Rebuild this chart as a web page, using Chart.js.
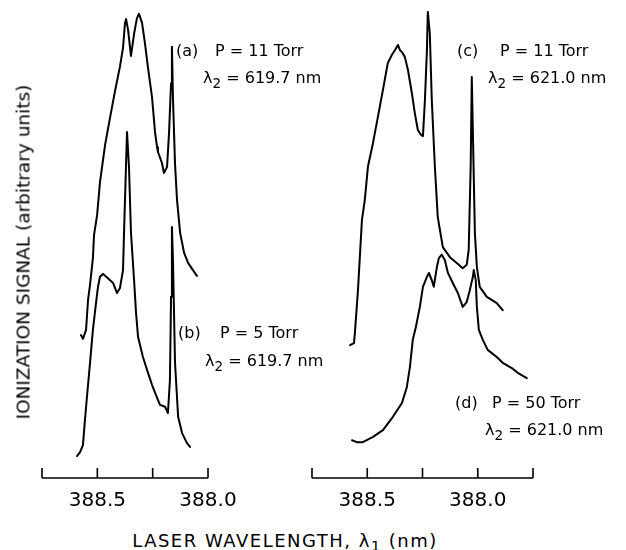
<!DOCTYPE html>
<html>
<head>
<meta charset="utf-8">
<script src="https://cdn.jsdelivr.net/npm/chart.js"></script>
<style>
  body { margin: 0; background: #fff; }
  #wrap { position: relative; width: 626px; height: 550px; overflow: hidden; font-family: "DejaVu Sans", sans-serif; color: #000; }
  canvas { position: absolute; top: 0; }
  .t { position: absolute; font-size: 16px; line-height: 16px; white-space: pre; }
  .t sub { font-size: 0.85em; vertical-align: -0.35em; line-height: 0; }
  #ytitle { position: absolute; left: 23px; top: 252px; transform: translate(-50%, -50%) rotate(-90deg); font-size: 18.5px; white-space: nowrap; }
  #xtitle { position: absolute; left: 285px; top: 540px; transform: translate(-50%, -50%); font-size: 18px; letter-spacing: 1.5px; white-space: nowrap; }
  #xtitle sub { font-size: 0.8em; vertical-align: -0.3em; line-height: 0; }
</style>
</head>
<body>
<div id="wrap">
  <canvas id="left" width="345" height="520" style="left:0"></canvas>
  <canvas id="right" width="336" height="520" style="left:290px"></canvas>

  <div id="ytitle">IONIZATION SIGNAL (arbitrary units)</div>
  <div id="xtitle">LASER WAVELENGTH, λ<sub>1</sub> (nm)</div>

  <div class="t" style="left:176px;top:43px">(a)</div>
  <div class="t" style="left:215px;top:43px">P = 11 Torr</div>
  <div class="t" style="left:203px;top:70px">λ<sub>2</sub> = 619.7 nm</div>

  <div class="t" style="left:178px;top:325px">(b)</div>
  <div class="t" style="left:220px;top:325px">P = 5 Torr</div>
  <div class="t" style="left:205px;top:353px">λ<sub>2</sub> = 619.7 nm</div>

  <div class="t" style="left:457px;top:43px">(c)</div>
  <div class="t" style="left:500px;top:43px">P = 11 Torr</div>
  <div class="t" style="left:488px;top:70px">λ<sub>2</sub> = 621.0 nm</div>

  <div class="t" style="left:455px;top:395px">(d)</div>
  <div class="t" style="left:492px;top:395px">P = 50 Torr</div>
  <div class="t" style="left:485px;top:422px">λ<sub>2</sub> = 621.0 nm</div>
</div>

<script>
// laser wavelength (nm) and ionization signal (arbitrary units, 0-100)

// (a) P = 11 Torr, lambda2 = 619.7 nm
const waveA = [388.574, 388.565, 388.551, 388.542, 388.533, 388.520, 388.515, 388.501, 388.488, 388.465,
  388.443, 388.420, 388.398, 388.384, 388.375, 388.370, 388.361, 388.348, 388.334, 388.321,
  388.312, 388.298, 388.285, 388.271, 388.253, 388.239, 388.230, 388.226, 388.208, 388.199,
  388.185, 388.176, 388.167, 388.163, 388.158, 388.149, 388.140, 388.126, 388.108, 388.090,
  388.068, 388.050];
const signalA = [29.9, 29.1, 31.0, 37.2, 40.4, 46.0, 50.8, 55.0, 61.9, 69.7,
  75.3, 81.0, 86.0, 90.0, 95.2, 96.0, 93.7, 88.3, 92.9, 96.2,
  97.1, 95.2, 91.0, 85.8, 79.7, 72.2, 69.2, 68.2, 65.9, 63.8,
  65.1, 72.2, 82.6, 90.2, 79.1, 65.7, 58.2, 51.3, 47.1, 45.0,
  43.5, 42.3];

// (b) P = 5 Torr, lambda2 = 619.7 nm
const waveB = [388.592, 388.578, 388.565, 388.556, 388.547, 388.533, 388.520, 388.506, 388.497, 388.488,
  388.474, 388.465, 388.452, 388.429, 388.411, 388.398, 388.384, 388.379, 388.375, 388.366,
  388.357, 388.348, 388.334, 388.325, 388.316, 388.294, 388.271, 388.253, 388.239, 388.217,
  388.194, 388.181, 388.172, 388.167, 388.163, 388.158, 388.149, 388.135, 388.117, 388.095,
  388.081];
const signalB = [4.6, 5.4, 6.9, 12.1, 16.9, 24.1, 31.0, 36.6, 40.0, 42.1,
  42.7, 42.3, 41.8, 40.8, 38.7, 39.7, 43.5, 51.9, 58.2, 72.4,
  65.1, 51.3, 41.4, 34.5, 29.5, 25.3, 22.0, 19.5, 17.8, 15.3,
  14.9, 13.6, 20.5, 37.9, 52.5, 45.0, 24.1, 12.8, 9.4, 7.3,
  6.5];

// (c) P = 11 Torr, lambda2 = 621.0 nm
const waveC = [388.578, 388.560, 388.556, 388.542, 388.524, 388.511, 388.497, 388.474, 388.452, 388.429,
  388.407, 388.389, 388.375, 388.361, 388.352, 388.343, 388.330, 388.316, 388.298, 388.285,
  388.271, 388.257, 388.248, 388.239, 388.230, 388.226, 388.217, 388.208, 388.194, 388.181,
  388.158, 388.126, 388.095, 388.068, 388.050, 388.041, 388.032, 388.027, 388.022, 388.013,
  388.004, 387.991, 387.959, 387.914, 387.887];
const signalC = [27.8, 28.2, 30.3, 39.3, 54.0, 58.2, 65.1, 70.1, 75.5, 81.2,
  86.8, 88.5, 89.5, 90.6, 89.5, 89.1, 88.1, 85.4, 80.5, 76.4,
  72.8, 71.8, 71.5, 79.1, 89.5, 97.5, 93.1, 79.1, 65.1, 54.6,
  48.3, 46.2, 45.0, 43.9, 44.6, 47.7, 65.1, 83.9, 72.2, 51.3,
  44.1, 40.0, 37.9, 36.6, 35.1];

// (d) P = 50 Torr, lambda2 = 621.0 nm
const waveD = [388.569, 388.547, 388.520, 388.474, 388.429, 388.384, 388.343, 388.321, 388.307, 388.294,
  388.280, 388.262, 388.248, 388.230, 388.221, 388.208, 388.199, 388.185, 388.176, 388.163,
  388.149, 388.135, 388.113, 388.090, 388.068, 388.050, 388.036, 388.022, 388.018, 388.009,
  388.004, 387.995, 387.977, 387.955, 387.914, 387.887, 387.846, 387.819, 387.778];
const signalD = [7.9, 7.5, 7.5, 8.6, 10.0, 12.8, 15.7, 19.0, 23.2, 28.9,
  31.6, 35.8, 40.0, 42.1, 42.9, 41.4, 40.0, 44.1, 46.0, 46.7,
  45.6, 42.9, 40.8, 38.7, 35.8, 36.8, 39.3, 42.1, 43.5, 41.4,
  35.8, 31.0, 28.9, 26.8, 25.3, 24.1, 23.0, 22.0, 20.9];

// axes
const leftRange = [388.0, 388.75];
const rightRange = [387.75, 388.75];
const tickStep = 0.25;
const labelledTicks = [388.5, 388.0];
const signalRange = [0, 100];

function toPoints(xs, ys) {
    return xs.map((x, i) => ({ x: x, y: ys[i] }));
}

function tickLabel(val) {
    const hit = labelledTicks.find(t => Math.abs(t - val) < 1e-6);
    return hit === undefined ? '' : hit.toFixed(1);
}

// axis line with tick marks pointing up into the plot
const axisPlugin = {
    id: 'axisLine',
    afterDraw(chart) {
        const xs = chart.scales.x;
        const y = chart.chartArea.bottom;
        const ctx = chart.ctx;
        ctx.save();
        ctx.strokeStyle = '#000';
        ctx.lineWidth = 1.6;
        ctx.beginPath();
        ctx.moveTo(xs.left, y);
        ctx.lineTo(xs.right, y);
        for (const t of xs.ticks) {
            const px = xs.getPixelForValue(t.value);
            ctx.moveTo(px, y);
            ctx.lineTo(px, y - 10);
        }
        ctx.stroke();
        ctx.restore();
    }
};

function makePanel(id, range, sets, pad) {
    const ctx = document.getElementById(id).getContext('2d');
    return new Chart(ctx, {
        type: 'line',
        data: {
            datasets: sets.map(s => ({
                data: toPoints(s[0], s[1]),
                borderColor: '#000',
                borderWidth: 2,
                borderJoinStyle: 'round',
                borderCapStyle: 'round',
                pointRadius: 0,
                tension: 0,
                fill: false
            }))
        },
        options: {
            responsive: false,
            animation: false,
            devicePixelRatio: 1,
            layout: { padding: pad },
            plugins: { legend: { display: false }, tooltip: { enabled: false } },
            scales: {
                x: {
                    type: 'linear',
                    min: range[0],
                    max: range[1],
                    reverse: true,
                    grid: { display: false, drawTicks: false },
                    border: { display: false },
                    afterFit: s => { s.height = 42; },
                    ticks: {
                        stepSize: tickStep,
                        autoSkip: false,
                        maxRotation: 0,
                        padding: 11,
                        color: '#000',
                        font: { family: 'DejaVu Sans', size: 20 },
                        callback: v => tickLabel(v)
                    }
                },
                y: {
                    display: false,
                    min: signalRange[0],
                    max: signalRange[1]
                }
            }
        },
        plugins: [axisPlugin]
    });
}

makePanel('left', leftRange, [[waveA, signalA], [waveB, signalB]], { left: 42, right: 137, top: 0, bottom: 0 });
makePanel('right', rightRange, [[waveC, signalC], [waveD, signalD]], { left: 22, right: 93, top: 0, bottom: 0 });
</script>
</body>
</html>
